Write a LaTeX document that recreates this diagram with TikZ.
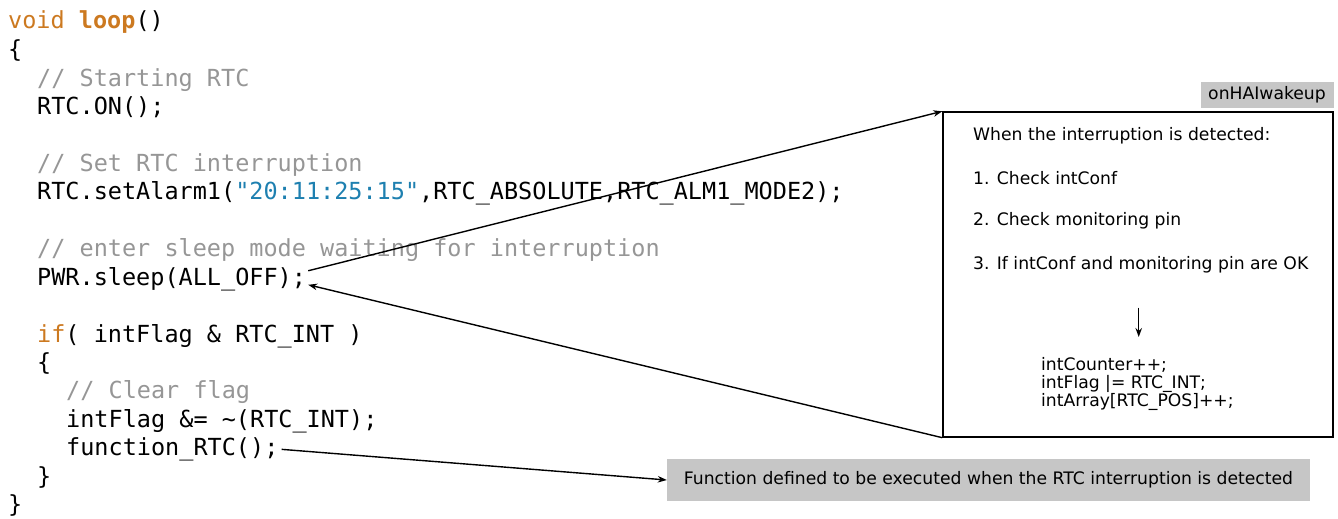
\documentclass[tikz,border=0pt]{standalone}
\usepackage{fontspec}
\setmainfont{DejaVu Sans}
\newfontfamily\codefont{DejaVu Sans Mono}
\usetikzlibrary{arrows.meta}
\definecolor{kwcol}{RGB}{204,121,32}
\definecolor{strcol}{RGB}{30,128,176}
\definecolor{remcol}{RGB}{150,150,150}
\definecolor{notecol}{RGB}{198,198,198}
\tikzstyle{src}=[anchor=base west,inner sep=0pt,font=\codefont\fontsize{23.5}{28}\selectfont]
\tikzstyle{srcrem}=[src,text=remcol]
\tikzstyle{txt}=[anchor=west,inner sep=0pt,font=\fontsize{17.2}{18}\selectfont]
\tikzstyle{graynote}=[fill=notecol,inner sep=0pt,font=\fontsize{17.2}{18}\selectfont]
\tikzstyle{callout}=[-{Stealth[length=9pt,width=6.5pt]},line width=1.4pt]

\begin{document}
\begin{tikzpicture}[x=1pt,y=-1pt]
\useasboundingbox (0,0) rectangle (1338,519);
% the loop() source
\node[src] (l1) at (8,29) {\textcolor{kwcol}{void \textbf{loop}}()};
\node[src] (l2) at (8,57.5) {\{};
\node[srcrem] (l3) at (37,86) {// Starting RTC};
\node[src] (l4) at (37,114) {RTC.ON();};
\node[srcrem] (l6) at (37,171) {// Set RTC interruption};
\node[src] (l7) at (37,199.5) {RTC.setAlarm1(\textcolor{strcol}{"20:11:25:15"},RTC\_ABSOLUTE,RTC\_ALM1\_MODE2);};
\node[srcrem] (l9) at (37,256.5) {// enter sleep mode waiting for interruption};
\node[src] (sleep) at (37,285) {PWR.sleep(ALL\_OFF);};
\node[src] (l12) at (37,342) {\textcolor{kwcol}{if}( intFlag \& RTC\_INT )};
\node[src] (l13) at (37,370) {\{};
\node[srcrem] (l14) at (66,398.5) {// Clear flag};
\node[src] (l15) at (66,427) {intFlag \&= \textasciitilde(RTC\_INT);};
\node[src] (func) at (66,455.5) {function\_RTC();};
\node[src] (l17) at (37,484) {\}};
\node[src] (l18) at (8,512.5) {\}};

% wake-up handler box
\node[draw,line width=1.4pt,minimum width=390pt,minimum height=325pt,inner sep=0pt] (wake) at (1138,274.5) {};
\node[graynote,minimum width=133pt,minimum height=26pt,anchor=south east] (hal) at ([yshift=3pt]wake.north east) {onHAIwakeup};
\node[txt] (intro) at (973,136) {When the interruption is detected:};
\node[txt] (chk1) at (973,178) {1. Check intConf};
\node[txt] (chk2) at (973,221) {2. Check monitoring pin};
\node[txt] (chk3) at (973,265) {3. If intConf and monitoring pin are OK};
\node[txt,align=left,anchor=north west] (upd) at (1041,357) {intCounter++;\\intFlag |= RTC\_INT;\\intArray[RTC\_POS]++;};
\draw[callout,shorten <=34pt,shorten >=20pt] ([xshift=-2pt]chk3.south) -- ([xshift=-2pt]chk3.south |- upd.north);

% note on function_RTC()
\node[graynote,minimum width=643pt,minimum height=42pt] (fnote) at (988.5,480) {Function defined to be executed when the RTC interruption is detected};

\draw[callout] ([xshift=2pt,yshift=8pt]sleep.east) -- (wake.north west);
\draw[callout] (wake.south west) -- ([xshift=2pt,yshift=-6pt]sleep.east);
\draw[callout] ([xshift=3pt]func.east) -- (fnote.west);
\end{tikzpicture}
\end{document}
